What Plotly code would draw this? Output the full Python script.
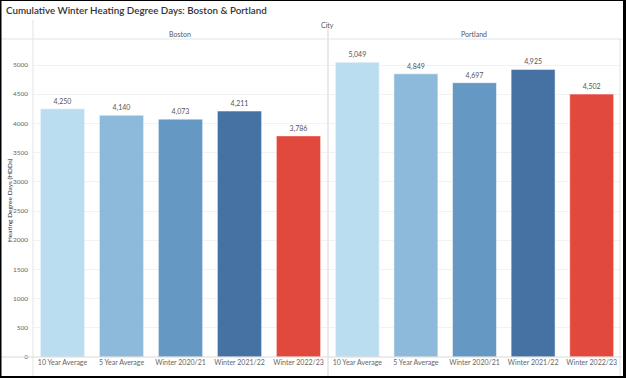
import plotly.graph_objects as go

categories = ["10 Year Average", "5 Year Average", "Winter 2020/21", "Winter 2021/22", "Winter 2022/23"]
boston = [4250, 4140, 4073, 4211, 3786]
portland = [5049, 4849, 4697, 4925, 4502]
colors = ["#BADDF0", "#8DB9DB", "#6598C3", "#4672A3", "#E2493D"]
y_ticks = [0, 500, 1000, 1500, 2000, 2500, 3000, 3500, 4000, 4500, 5000]

W, H = 626, 378
L, R, T, B = 33, 5, 40, 21
PW, PH = W - L - R, H - T - B
split_px = 328

def px(x):
    return (x - L) / PW

def py(y):
    return (H - B - y) / PH

FONT = "Lato"
fig = go.Figure()
for i, (name, vals, xa) in enumerate([("Boston", boston, "x"), ("Portland", portland, "x2")]):
    fig.add_trace(go.Bar(
        x=categories, y=vals, xaxis=xa, yaxis="y",
        marker=dict(color=colors, line=dict(color="rgba(255,255,255,0.5)", width=1)),
        texttemplate="%{y:,}", textposition="outside",
        textfont=dict(size=7, color="#555", family=FONT),
        cliponaxis=False, showlegend=False, name=name,
    ))

split = px(split_px)
axis_common = dict(showgrid=False, zeroline=False, showline=False, ticks="",
                   tickfont=dict(size=7, color="#666", family=FONT))
fig.update_layout(
    width=W, height=H,
    margin=dict(l=L, r=R, t=T, b=B),
    paper_bgcolor="white", plot_bgcolor="white",
    bargap=0.25,
    xaxis=dict(domain=[0, split], **axis_common),
    xaxis2=dict(domain=[split, 1], anchor="y", **axis_common),
    yaxis=dict(range=[0, 5428], tickvals=y_ticks, tickformat="d",
               showgrid=True, gridcolor="#F2F2F2", gridwidth=1, zeroline=False,
               tickfont=dict(size=6.5, color="#666", family=FONT), ticks="", ticklabelstandoff=4),
    font=dict(family=FONT),
)

line_col = "#E3E3E3"
shapes = [
    dict(type="line", xref="paper", yref="paper", x0=px(0), x1=px(622), y0=py(39), y1=py(39), line=dict(color=line_col, width=1)),
    dict(type="line", xref="paper", yref="paper", x0=px(0), x1=px(622), y0=py(357), y1=py(357), line=dict(color="#D9D9D9", width=1)),
    dict(type="line", xref="paper", yref="paper", x0=px(33), x1=px(33), y0=py(20), y1=py(376), line=dict(color=line_col, width=1)),
    dict(type="line", xref="paper", yref="paper", x0=px(split_px), x1=px(split_px), y0=py(29), y1=py(376), line=dict(color=line_col, width=1.5)),
    dict(type="line", xref="paper", yref="paper", x0=px(620), x1=px(620), y0=py(39), y1=py(376), line=dict(color=line_col, width=1)),
]
for (x0, y0, x1, y1) in [(0, 0, 626, 1), (0, 0, 1.5, 378), (623, 0, 626, 378), (0, 376, 626, 378)]:
    shapes.append(dict(type="rect", xref="paper", yref="paper", x0=px(x0), x1=px(x1), y0=py(y0), y1=py(y1),
                       fillcolor="black", line=dict(width=0)))
fig.update_layout(shapes=shapes)

annotations = [
    dict(text="Cumulative Winter Heating Degree Days: Boston & Portland", xref="paper", yref="paper",
         x=px(4), y=py(10), xanchor="left", yanchor="middle", showarrow=False,
         font=dict(size=9.8, color="#333", family=FONT, weight=600)),
    dict(text="City", xref="paper", yref="paper", x=px(327), y=py(25), xanchor="center", yanchor="middle",
         showarrow=False, font=dict(size=7, color="#555", family=FONT)),
    dict(text="Boston", xref="paper", yref="paper", x=px((33 + split_px) / 2), y=py(34), xanchor="center",
         yanchor="middle", showarrow=False, font=dict(size=7, color="#555", family=FONT)),
    dict(text="Portland", xref="paper", yref="paper", x=px((split_px + 620) / 2), y=py(34), xanchor="center",
         yanchor="middle", showarrow=False, font=dict(size=7, color="#555", family=FONT)),
    dict(text="Heating Degree Days (HDDs)", xref="paper", yref="paper", x=px(9), y=py(200),
         xanchor="center", yanchor="middle", textangle=-90, showarrow=False,
         font=dict(size=6.5, color="#333", family=FONT)),
]
fig.update_layout(annotations=annotations)

fig.write_html("out.html", config={"displayModeBar": False},
               post_script="document.body.style.margin='0';document.body.style.overflow='hidden';")
